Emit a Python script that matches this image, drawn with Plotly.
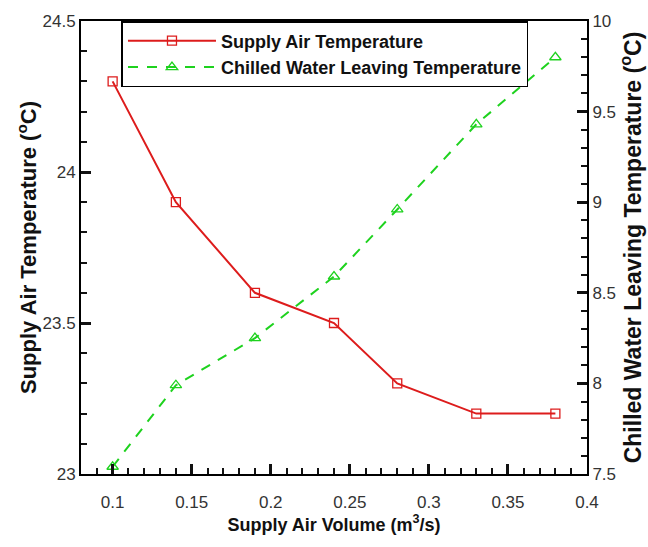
import plotly.graph_objects as go

volume = [0.10, 0.14, 0.19, 0.24, 0.28, 0.33, 0.38]
supply_air_temp = [24.3, 23.9, 23.6, 23.5, 23.3, 23.2, 23.2]
chilled_water_temp = [7.54, 7.99, 8.25, 8.59, 8.96, 9.43, 9.80]

RED = "#dd1c1c"
GREEN = "#1ed21e"
FONT = "Liberation Sans, Arial, sans-serif"

fig = go.Figure()
fig.add_trace(go.Scatter(
    x=volume, y=supply_air_temp, name="Supply Air Temperature",
    mode="lines+markers",
    line=dict(color=RED, width=2),
    marker=dict(symbol="square-open", size=9, color=RED, line=dict(width=1.3)),
))
fig.add_trace(go.Scatter(
    x=volume, y=chilled_water_temp, name="Chilled Water Leaving Temperature",
    mode="lines+markers", yaxis="y2",
    line=dict(color=GREEN, width=2, dash="10px,9px"),
    marker=dict(symbol="triangle-up-open", size=10, color=GREEN, line=dict(width=1.3)),
))

tickfont = dict(family=FONT, size=17, color="#333333")

def tfont(sz):
    return dict(family=FONT, size=sz, color="#111111", weight="bold")

major = dict(ticks="inside", ticklen=10, tickwidth=3, tickcolor="#111111")
minor_t = dict(ticks="inside", ticklen=6, tickwidth=2, tickcolor="#111111")
axstyle = dict(showline=True, linecolor="black", linewidth=2,
               showgrid=False, zeroline=False, tickfont=tickfont)

fig.update_layout(
    width=648, height=547,
    margin=dict(l=81, r=57, t=14, b=73),
    paper_bgcolor="white", plot_bgcolor="white",
    showlegend=True,
    legend=dict(
        x=0.080, y=1, xanchor="left", yanchor="top",
        bordercolor="black", borderwidth=1.5, bgcolor="white",
        font=dict(family=FONT, size=18, color="#111111", weight="bold"),
        tracegroupgap=0, itemwidth=88,
    ),
    xaxis=dict(
        range=[0.08, 0.4], dtick=0.05, tick0=0.1,
        minor=dict(dtick=0.01, **minor_t),
        mirror=True, ticklabelstandoff=12,
        title=dict(text="Supply Air Volume (m<sup>3</sup>/s)", font=tfont(18), standoff=6),
        **major, **axstyle,
    ),
    yaxis=dict(
        range=[23, 24.5], dtick=0.5,
        minor=dict(dtick=0.1, **minor_t),
        title=dict(text="Supply Air Temperature (<sup>o</sup>C)", font=tfont(22), standoff=0),
        **major, **axstyle,
    ),
    yaxis2=dict(
        range=[7.5, 10], dtick=0.5, overlaying="y", side="right",
        minor=dict(dtick=0.1, **minor_t),
        title=dict(text="Chilled Water Leaving Temperature (<sup>o</sup>C)", font=tfont(23), standoff=4),
        **major, **axstyle,
    ),
)

fig.write_html("out.html")
